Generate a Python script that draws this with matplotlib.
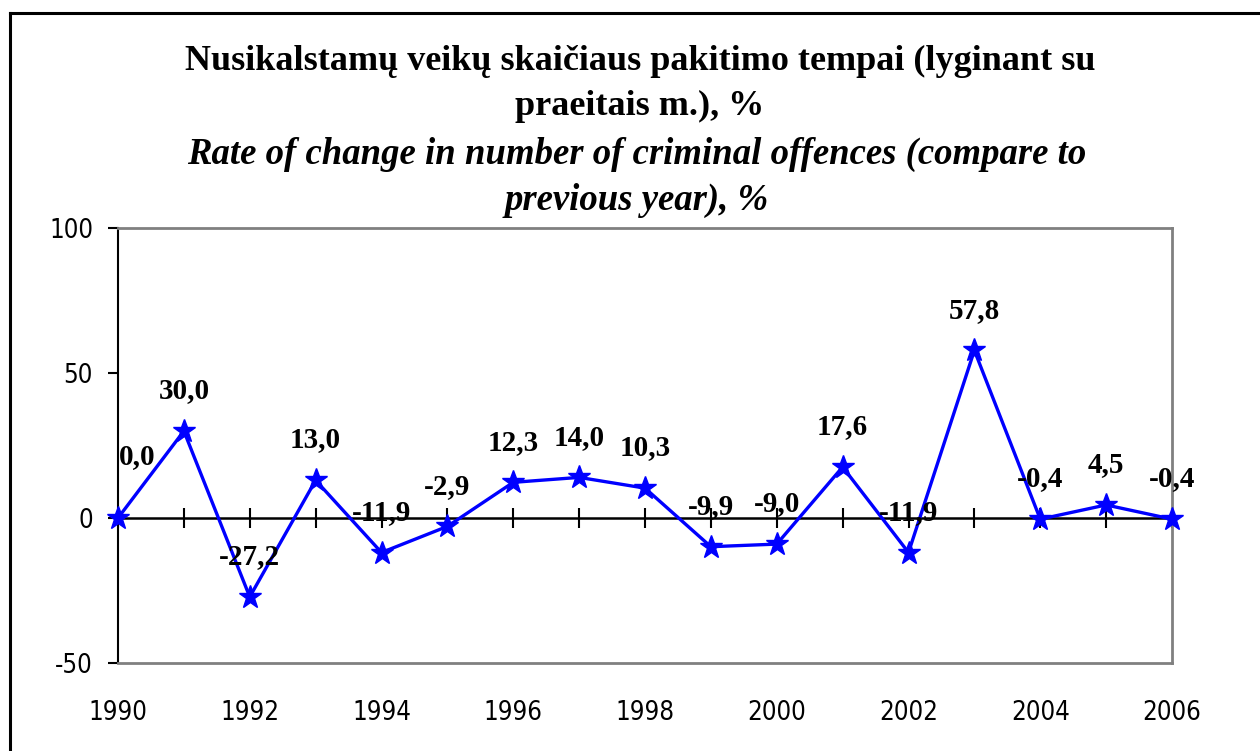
import matplotlib
matplotlib.use("Agg")
import matplotlib.pyplot as plt
from matplotlib.lines import Line2D

# data
years = [1990, 1991, 1992, 1993, 1994, 1995, 1996, 1997, 1998,
         1999, 2000, 2001, 2002, 2003, 2004, 2005, 2006]
change = [0.0, 30.0, -27.2, 13.0, -11.9, -2.9, 12.3, 14.0, 10.3,
          -9.9, -9.0, 17.6, -11.9, 57.8, -0.4, 4.5, -0.4]
labels = ["0,0", "30,0", "-27,2", "13,0", "-11,9", "-2,9", "12,3", "14,0", "10,3",
          "-9,9", "-9,0", "17,6", "-11,9", "57,8", "-0,4", "4,5", "-0,4"]
xticks = [1990, 1992, 1994, 1996, 1998, 2000, 2002, 2004, 2006]
yticks = [-50, 0, 50, 100]

title_lt = "Nusikalstamų veikų skaičiaus pakitimo tempai (lyginant su\npraeitais m.), %"
title_en = "Rate of change in number of criminal offences (compare to\nprevious year), %"

W, H = 1260, 751
fig = plt.figure(figsize=(W / 100, H / 100), dpi=100)
fig.patch.set_facecolor("white")

# cropped outer frame: only top and left edges visible
fig.add_artist(Line2D([10 / W, 1.0], [1 - 13 / H, 1 - 13 / H], color="black", lw=2.2,
                      transform=fig.transFigure))
fig.add_artist(Line2D([10 / W, 10 / W], [0.0, 1 - 13 / H], color="black", lw=2.2,
                      transform=fig.transFigure))

fig.text(0.508, 1 - 84 / H, title_lt, ha="center", va="center", fontsize=26,
         fontweight="bold", family="Liberation Serif", linespacing=1.49)
fig.text(0.505, 1 - 177 / H, title_en, ha="center", va="center", fontsize=26.5,
         fontweight="bold", fontstyle="italic", family="Liberation Serif", linespacing=1.40)

ax = fig.add_axes([118 / W, 1 - 663 / H, (1172 - 118) / W, (663 - 228) / H])
ax.set_xlim(1990, 2006)
ax.set_ylim(-50, 100)

for side in ["top", "right", "bottom"]:
    ax.spines[side].set_color("#808080")
    ax.spines[side].set_linewidth(2)
ax.spines["left"].set_color("black")
ax.spines["left"].set_linewidth(1.5)

# zero line acting as category axis, with a tick at every year
ax.axhline(0, color="black", lw=1.8, zorder=2)
ax.vlines(years, -3.4, 3.4, color="black", lw=1.5, zorder=2)

ax.plot(years, change, color="#0000ff", lw=2.4, marker="*", markersize=17,
        markeredgewidth=1, zorder=3, clip_on=False)

for i, (x, y, s) in enumerate(zip(years, change, labels)):
    dx, dy = (14, 44) if i == 0 else (0, 29)
    ax.annotate(s, (x, y), xytext=(dx, dy), textcoords="offset points",
                ha="center", va="center", fontsize=21, fontweight="bold",
                family="Liberation Serif", zorder=4)

ax.set_xticks(xticks)
ax.set_xticklabels([str(t) for t in xticks])
ax.set_yticks(yticks)
ax.set_yticklabels([str(t) for t in yticks])
ax.tick_params(axis="x", length=0, pad=27, labelsize=18.5)
ax.tick_params(axis="y", length=7, width=1.5, direction="out", pad=11, labelsize=18.5)
for lab in ax.get_xticklabels() + ax.get_yticklabels():
    lab.set_family("DejaVu Sans")
    lab.set_fontstretch("condensed")

fig.savefig("out.png", dpi=100, facecolor="white")
